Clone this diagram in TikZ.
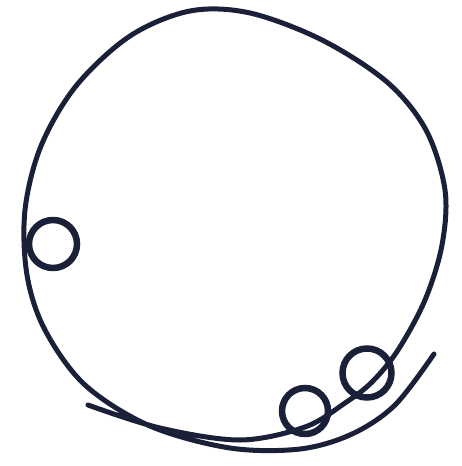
\documentclass[tikz,border=0pt]{standalone}
\usepackage{tikz}
\definecolor{inkcol}{HTML}{1B2039}

\begin{document}
\begin{tikzpicture}[x=1pt, y=-1pt,
    loopline/.style={draw=inkcol, line width=5pt, line cap=round, line join=round},
    bead/.style={circle, draw=inkcol, line width=6.5pt, inner sep=0pt}
  ]

  % ---- Frame (pixel coordinates, y down) ----
  \useasboundingbox (0,0) rectangle (461,466);

  % ---- Hand-drawn loop, overlapping at the bottom ----
  \draw[loopline] plot[smooth, tension=0.55] coordinates {
      (88,405) (160,428) (240,440) (305,427) (345,403) (372,382)
      (398,350) (425,300) (442,245) (445,190) (426,130) (387,82)
      (322,40) (250,13) (190,11) (130,36) (76,86) (41,146)
      (25,210) (27,275) (45,330) (85,385) (150,426) (230,448)
      (300,449) (352,434) (395,405) (434,354)};

  % ---- Beads ----
  \node[bead, minimum size=48pt] (bead-left)  at (53,244)  {};
  \node[bead, minimum size=46pt] (bead-low)   at (305,411) {};
  \node[bead, minimum size=49pt] (bead-right) at (367,373) {};

\end{tikzpicture}
\end{document}
